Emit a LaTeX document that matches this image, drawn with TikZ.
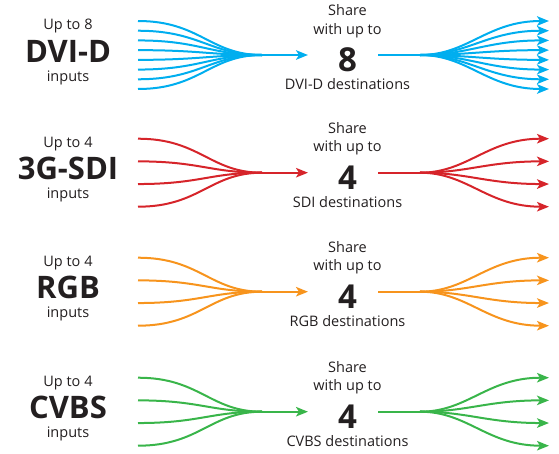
\documentclass[tikz,border=0pt]{standalone}
\usepackage{fontspec}
\setmainfont{Open Sans}
\usepackage{xcolor}
\usetikzlibrary{arrows.meta}

\definecolor{dviblue}{RGB}{0,174,239}
\definecolor{sdired}{RGB}{214,36,42}
\definecolor{rgborange}{RGB}{247,148,29}
\definecolor{cvbsgreen}{RGB}{57,181,74}
\definecolor{inkgray}{RGB}{35,31,32}

\tikzset{
  smalltxt/.style={font=\fontsize{14.5}{16}\selectfont, text=inkgray, inner sep=0pt, anchor=base},
  bigtxt/.style={font=\fontsize{31}{34}\selectfont\bfseries, text=inkgray, inner sep=0pt, anchor=base},
  numtxt/.style={font=\fontsize{33}{36}\selectfont\bfseries, text=inkgray, inner sep=0pt, anchor=base},
  feed/.style={line width=2pt},
  feedtip/.style={-{Stealth[length=12pt,width=9.5pt,inset=3pt]}}
}

\begin{document}
\begin{tikzpicture}[x=1pt,y=-1pt]
    \useasboundingbox (0,0) rectangle (559,453);
    % one row per signal type: row/centre/colour/count/input name/destination name
    \foreach \r/\c/\col/\n/\kind/\dest in {1/55/dviblue/8/DVI-D/DVI-D,
                                          2/172.7/sdired/4/3G-SDI/SDI,
                                          3/291.7/rgborange/4/RGB/RGB,
                                          4/411.7/cvbsgreen/4/CVBS/CVBS}
    {
      % labels on the left
      \node[smalltxt] (upto-\r) at (68,\c-25.5) {Up to \n};
      \node[bigtxt] (kind-\r) at (68,\c+7) {\kind};
      \node[smalltxt] (inputs-\r) at (68,\c+26) {inputs};
      % labels in the middle
      \node[smalltxt] (share-\r) at (347.5,\c-39.7) {Share};
      \node[smalltxt] (with-\r) at (347.5,\c-20.8) {with up to};
      \node[numtxt] (num-\r) at (347.5,\c+16.5) {\n};
      \node[smalltxt] (dest-\r) at (347.5,\c+34.5) {\dest\ destinations};
      % hub points
      \coordinate (merge-\r) at (262,\c);
      \coordinate (hubin-\r) at (308,\c);
      \coordinate (split-\r) at (378,\c);
      \coordinate (fan-\r) at (420,\c);
      \draw[feed,feedtip,\col] (merge-\r) -- (hubin-\r);
      \draw[feed,\col] (split-\r) -- (fan-\r);
      \foreach \i in {1,...,\n} {
        \pgfmathsetmacro\y{\c-34+(\i-1)*68/(\n-1)}
        \coordinate (in-\r-\i) at (138,\y);
        \coordinate (out-\r-\i) at (549,\y);
        \draw[feed,\col] (in-\r-\i) .. controls +(62,0) and +(-52,0) .. (merge-\r);
        \draw[feed,feedtip,\col] (fan-\r) .. controls +(48,0) and +(-62,0) .. (out-\r-\i);
      }
    }
\end{tikzpicture}
\end{document}
